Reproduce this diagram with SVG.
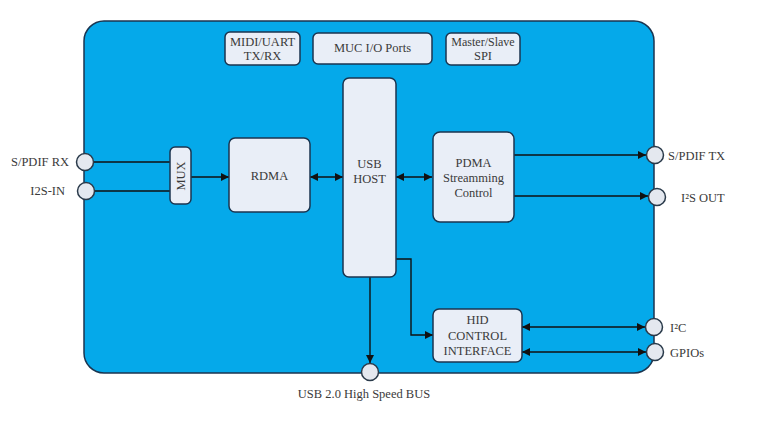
<svg xmlns="http://www.w3.org/2000/svg" width="758" height="433" viewBox="0 0 758 433" font-family="'Liberation Serif', 'Times New Roman', serif">
<defs>
<marker id="ah" viewBox="0 0 10 10" refX="10" refY="5" markerWidth="10" markerHeight="8" markerUnits="userSpaceOnUse" orient="auto-start-reverse">
<path d="M0,0 L10,5 L0,10 z" fill="#111"/>
</marker>
<style>
.bx{fill:#e9eef7;stroke:#1b3550;stroke-width:1.5}
.pt{fill:#e4e8ef;stroke:#2a3a4a;stroke-width:1.5}
text{font-family:'Liberation Serif','Times New Roman',serif;font-size:12.5px;fill:#3a3a3a}
.t{text-anchor:middle}
.c{stroke:#111;stroke-width:1.4;fill:none}
</style>
</defs>
<rect width="758" height="433" fill="#fff"/>
<rect id="board" x="84" y="21" width="570" height="352" rx="20" fill="#05a9ea" stroke="#1b3550" stroke-width="1.5"/>
<g id="connectors">
<path class="c" d="M94,162 H170"/>
<path class="c" d="M95,191 H170"/>
<path class="c" d="M191,177 H229" marker-end="url(#ah)"/>
<path class="c" d="M310,177 H343" marker-start="url(#ah)" marker-end="url(#ah)"/>
<path class="c" d="M396,177 H432" marker-start="url(#ah)" marker-end="url(#ah)"/>
<path class="c" d="M514,155 H646" marker-end="url(#ah)"/>
<path class="c" d="M514,196 H648" marker-end="url(#ah)"/>
<path class="c" d="M396,259 H411 V335 H433" marker-end="url(#ah)"/>
<path class="c" d="M370,277 V363" marker-end="url(#ah)"/>
<path class="c" d="M522,327 H645" marker-start="url(#ah)" marker-end="url(#ah)"/>
<path class="c" d="M522,352 H646" marker-start="url(#ah)" marker-end="url(#ah)"/>
</g>
<g id="midi"><rect class="bx" x="225" y="32" width="75" height="33" rx="5"/><text class="t" x="262.5" y="46">MIDI/UART</text><text class="t" x="262.5" y="60">TX/RX</text></g>
<g id="muc"><rect class="bx" x="313" y="33" width="119" height="31" rx="5"/><text class="t" x="372.5" y="52">MUC I/O Ports</text></g>
<g id="spi"><rect class="bx" x="446" y="33" width="74" height="32" rx="5"/><text class="t" x="483" y="46" style="font-size:12px">Master/Slave</text><text class="t" x="483" y="60">SPI</text></g>
<g id="mux"><rect class="bx" x="170" y="147" width="21" height="57" rx="5"/><text class="t" transform="translate(184.5,176) rotate(-90)">MUX</text></g>
<g id="rdma"><rect class="bx" x="229" y="138" width="81" height="74" rx="6"/><text class="t" x="269.5" y="180">RDMA</text></g>
<g id="usbhost"><rect class="bx" x="343" y="78" width="53" height="199" rx="6"/><text class="t" x="369.5" y="168">USB</text><text class="t" x="369.5" y="183">HOST</text></g>
<g id="pdma"><rect class="bx" x="433" y="132" width="81" height="90" rx="7"/><text class="t" x="473.5" y="167">PDMA</text><text class="t" x="473.5" y="182">Streamming</text><text class="t" x="473.5" y="197">Control</text></g>
<g id="hid"><rect class="bx" x="433" y="309" width="89" height="53" rx="6"/><text class="t" x="477.5" y="324">HID</text><text class="t" x="477.5" y="340">CONTROL</text><text class="t" x="477.5" y="355">INTERFACE</text></g>
<g id="spdifrx"><circle class="pt" cx="85" cy="162" r="8.5"/><text x="69" y="166" text-anchor="end">S/PDIF RX</text></g>
<g id="i2sin"><circle class="pt" cx="86" cy="191" r="8.5"/><text x="65" y="195" text-anchor="end">I2S-IN</text></g>
<g id="spdiftx"><circle class="pt" cx="655" cy="155" r="8.5"/><text x="668" y="160">S/PDIF TX</text></g>
<g id="i2sout"><circle class="pt" cx="657" cy="197" r="8.5"/><text x="681" y="202">I²S OUT</text></g>
<g id="i2c"><circle class="pt" cx="654" cy="327" r="8.5"/><text x="670" y="332">I²C</text></g>
<g id="gpios"><circle class="pt" cx="655" cy="352" r="8.5"/><text x="670" y="357">GPIOs</text></g>
<g id="usbbus"><circle class="pt" cx="370" cy="372" r="8.5"/><text class="t" x="364" y="398">USB 2.0 High Speed BUS</text></g>
</svg>
